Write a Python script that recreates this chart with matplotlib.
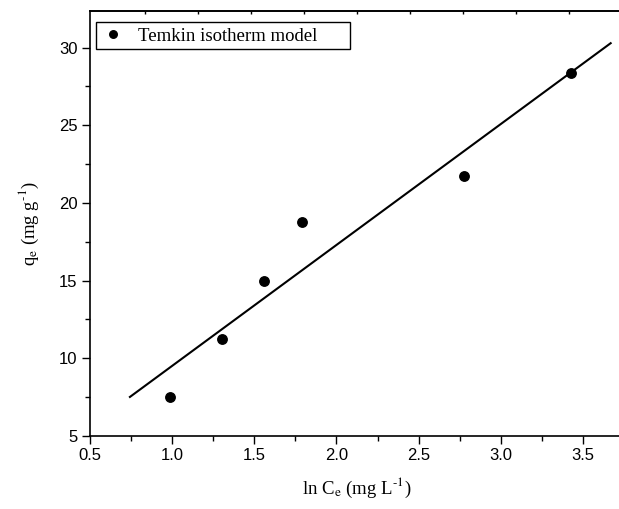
import numpy as np
import matplotlib
matplotlib.use("Agg")
import matplotlib.pyplot as plt
from matplotlib.ticker import MultipleLocator
from matplotlib.patches import Rectangle
from matplotlib.transforms import Affine2D

plt.rcParams['mathtext.fontset'] = 'stix'

# Data
ln_ce = [0.987, 1.303, 1.559, 1.79, 2.776, 3.426]
qe = [7.49, 11.24, 14.95, 18.75, 21.74, 28.38]
series_label = "Temkin isotherm model"
xticks = [0.5, 1.0, 1.5, 2.0, 2.5, 3.0, 3.5]
yticks = [5, 10, 15, 20, 25, 30]

W, H = 619, 509
fig = plt.figure(figsize=(W / 100, H / 100), dpi=100)
x0, x1 = 0.5, 3.8
left_px, bottom_px, top_px = 90, 436, 11
px_per_unit = 164.3
right_px = left_px + (x1 - x0) * px_per_unit
aw = right_px - left_px
ah = bottom_px - top_px
ax = fig.add_axes([left_px / W, (H - bottom_px) / H, aw / W, ah / H])

ax.plot(ln_ce, qe, 'o', color='black', markersize=6.8, label=series_label, zorder=3)

# linear fit
slope, intercept = np.polyfit(ln_ce, qe, 1)
xf = np.array([0.743, 3.669])
ax.plot(xf, slope * xf + intercept, '-', color='black', linewidth=1.5)

ax.set_xlim(x0, x1)
ax.set_ylim(5, 32.36)
ax.set_xticks(xticks)
ax.set_yticks(yticks)
ax.xaxis.set_minor_locator(MultipleLocator(0.25))
ax.yaxis.set_minor_locator(MultipleLocator(2.5))
ax.set_xticklabels([f"{v:.1f}" for v in xticks], fontsize=12, family='Liberation Sans')
ax.set_yticklabels([str(v) for v in yticks], fontsize=12, family='Liberation Sans')

ax.tick_params(which='major', direction='out', length=6, width=1.0, top=False, right=False, pad=3)
ax.tick_params(which='minor', direction='out', length=3.5, width=1.0, top=False, right=False)

# top inner ticks (secondary scale)
secx = ax.secondary_xaxis('top')
secx.set_xticks(np.arange(0.835, 3.6, 0.3225))
secx.tick_params(direction='in', length=2.5, width=1.0, labeltop=False)
secx.xaxis.set_minor_locator(plt.NullLocator())
secx.spines['top'].set_linewidth(1.2)
for name in ('right', 'left', 'bottom'):
    secx.spines[name].set_visible(False)

for s in ax.spines.values():
    s.set_linewidth(1.2)
ax.spines['right'].set_visible(False)

ax.set_xlabel(r"ln C$_{\mathrm{e}}$ (mg L$^{\text{-1}}$)", fontsize=13.5,
              family='Liberation Serif')
ax.set_ylabel(r"q$_{\mathrm{e}}$ (mg g$^{\text{-1}}$)", fontsize=13.5,
              family='Liberation Serif')
ax.xaxis.set_label_coords(((357 - left_px) / aw), -0.095)
ax.yaxis.set_label_coords(-(left_px - 41) / aw, 0.5)

leg = ax.legend(loc='center left',
                bbox_to_anchor=((102 - left_px) / aw, 1 - (36 - top_px) / ah),
                borderaxespad=0, frameon=False,
                prop={'family': 'Liberation Serif', 'size': 13.5}, handletextpad=0.7,
                handlelength=1.2, borderpad=0.0, markerscale=0.8)

# legend frame drawn in figure pixel coordinates (Origin-style wide box)
pix = Affine2D().scale(1 / W, 1 / H) + fig.transFigure
frame = Rectangle((95.5, H - 49), 350 - 95.5, 49 - 21.7, transform=pix,
                  fill=False, edgecolor='black', linewidth=1.0)
fig.patches.append(frame)

fig.savefig("out.png", dpi=100)
